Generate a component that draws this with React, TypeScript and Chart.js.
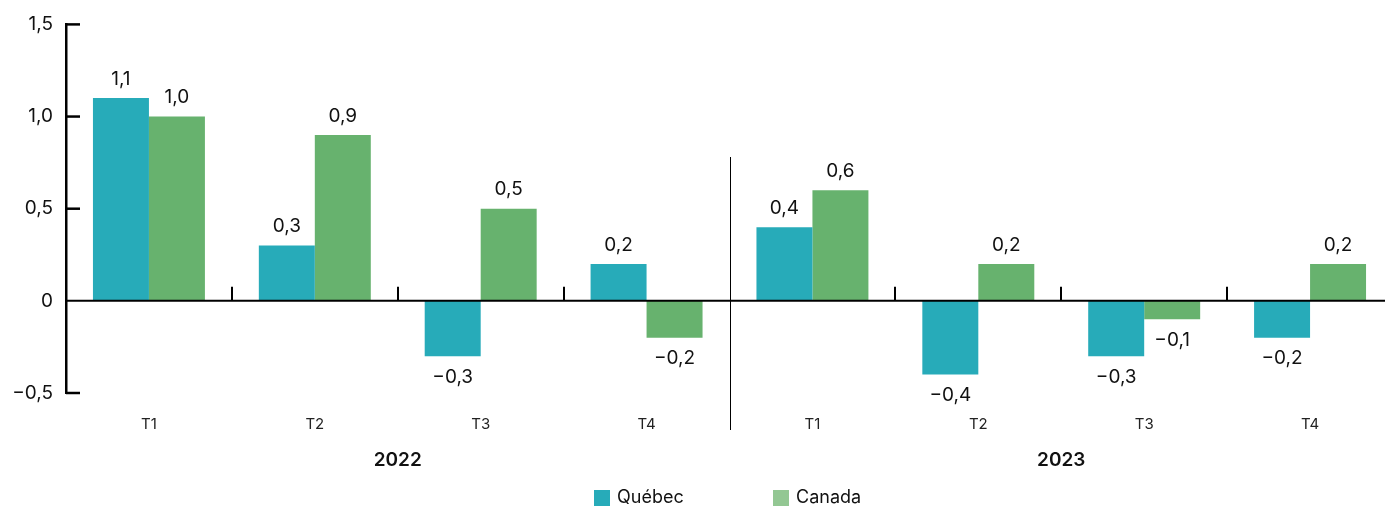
import React, { useEffect, useRef } from "react";
import { Chart, registerables } from "chart.js";

Chart.register(...registerables);

const categories = ["T1", "T2", "T3", "T4", "T1", "T2", "T3", "T4"];
const years = ["2022", "2023"];
const quebec = [1.1, 0.3, -0.3, 0.2, 0.4, -0.4, -0.3, -0.2];
const canada = [1.0, 0.9, 0.5, -0.2, 0.6, 0.2, -0.1, 0.2];
const seriesNames = ["Québec", "Canada"];
const barColors = ["#27abb9", "#67b26e"];
const legendColors = ["#27abb9", "#93c793"];

const FONT = "Inter, 'Noto Sans', sans-serif";

function fmt(v: number): string {
  if (v === 0) return "0";
  const s = Math.abs(v).toFixed(1).replace(".", ",");
  return v < 0 ? "\u2212" + s : s;
}

const overlay = {
  id: "overlay",
  afterDraw(chart: any) {
    const { ctx, chartArea, scales } = chart;
    const x = scales.x;
    const y = scales.y;
    const y0 = y.getPixelForValue(0);
    ctx.save();
    ctx.strokeStyle = "#000";
    // zero line
    ctx.lineWidth = 2;
    ctx.beginPath();
    ctx.moveTo(chartArea.left, y0);
    ctx.lineTo(chartArea.right + 5, y0);
    ctx.stroke();
    // boundary ticks on zero line
    for (let i = 0; i < categories.length - 1; i++) {
      if (i === 3) continue;
      const px = Math.round(x.getPixelForValue(i + 0.5));
      ctx.beginPath();
      ctx.moveTo(px, y0);
      ctx.lineTo(px, y0 - 14);
      ctx.stroke();
    }
    // y inward ticks
    ctx.lineWidth = 2.5;
    for (const t of y.ticks) {
      if (t.value === 0) continue;
      const py = y.getPixelForValue(t.value);
      ctx.beginPath();
      ctx.moveTo(chartArea.left, py);
      ctx.lineTo(chartArea.left + 14, py);
      ctx.stroke();
    }
    // separator between years
    const sx = Math.round(x.getPixelForValue(3.5)) + 0.5;
    ctx.lineWidth = 1;
    ctx.beginPath();
    ctx.moveTo(sx, 157);
    ctx.lineTo(sx, 430);
    ctx.stroke();

    // data labels
    ctx.fillStyle = "#111";
    ctx.font = `19px ${FONT}`;
    ctx.textAlign = "center";
    ctx.textBaseline = "middle";
    chart.data.datasets.forEach((ds: any, di: number) => {
      const meta = chart.getDatasetMeta(di);
      meta.data.forEach((bar: any, i: number) => {
        const v = ds.data[i];
        const ly = v >= 0 ? bar.y - 19 : bar.y + 21;
        ctx.fillText(fmt(v), bar.x, ly);
      });
    });

    // year labels
    ctx.font = `600 19px ${FONT}`;
    years.forEach((yr, k) => {
      const cx = x.getPixelForValue(k * 4 + 1.5);
      ctx.fillText(yr, cx, 460);
    });

    // legend
    ctx.font = `18px ${FONT}`;
    ctx.textAlign = "left";
    const legendX = [594, 773];
    seriesNames.forEach((name, k) => {
      ctx.fillStyle = legendColors[k];
      ctx.fillRect(legendX[k], 490, 16, 16);
      ctx.fillStyle = "#111";
      ctx.fillText(name, legendX[k] + 23, 498);
    });
    ctx.restore();
  },
};

export default function App() {
  const ref = useRef<HTMLCanvasElement | null>(null);
  useEffect(() => {
    if (!ref.current) return;
    const chart = new Chart(ref.current, {
      type: "bar",
      data: {
        labels: categories,
        datasets: [
          {
            label: seriesNames[0],
            data: quebec,
            backgroundColor: barColors[0],
            borderWidth: 0,
            categoryPercentage: 0.675,
            barPercentage: 1,
          },
          {
            label: seriesNames[1],
            data: canada,
            backgroundColor: barColors[1],
            borderWidth: 0,
            categoryPercentage: 0.675,
            barPercentage: 1,
          },
        ],
      },
      options: {
        responsive: false,
        animation: false,
        layout: { padding: { top: 21, right: 7, left: 0, bottom: 0 } },
        plugins: { legend: { display: false }, tooltip: { enabled: false } },
        scales: {
          x: {
            grid: { display: false, drawTicks: false },
            border: { display: false },
            ticks: {
              font: { family: FONT, size: 15 },
              color: "#222",
              padding: 22,
              maxRotation: 0,
              autoSkip: false,
            },
            afterFit: (s: any) => {
              s.height = 115;
            },
          },
          y: {
            min: -0.5,
            max: 1.5,
            grid: { display: false, drawTicks: false },
            border: { display: true, color: "#000", width: 2.5 },
            ticks: {
              stepSize: 0.5,
              font: { family: FONT, size: 19 },
              color: "#111",
              padding: 13,
              callback: (v: any) => fmt(Number(v)),
            },
            afterFit: (s: any) => {
              s.width = 66;
            },
          },
        },
      },
      plugins: [overlay],
    });
    return () => chart.destroy();
  }, []);
  return (
    <div
      style={{
        position: "fixed",
        left: 0,
        top: 0,
        width: 1385,
        height: 508,
        overflow: "hidden",
        background: "#fff",
      }}
    >
      <canvas ref={ref} width={1400} height={508} style={{ width: 1400, height: 508 }} />
    </div>
  );
}
